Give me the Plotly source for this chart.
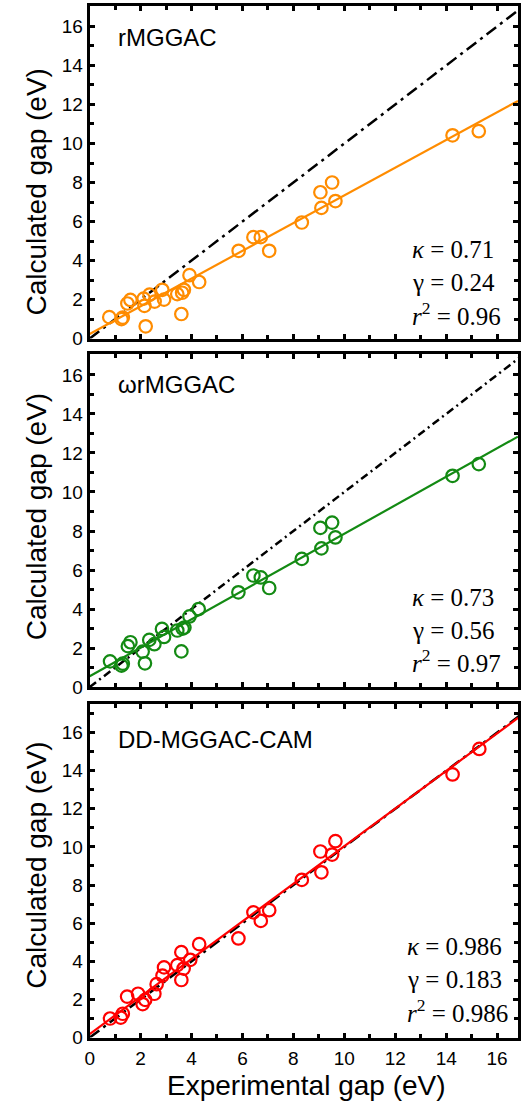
import plotly.graph_objects as go

W, H = 521, 1107

# ---------------- data ----------------
panel_names = ["rMGGAC", "ωrMGGAC", "DD-MGGAC-CAM"]
colors = ["#FF8C00", "#138A13", "#FF0000"]

exp_r = [0.77, 1.25, 1.3, 1.48, 1.6, 2.12, 2.15, 2.2, 2.35, 2.55, 2.85, 2.92, 3.44, 3.6, 3.63, 3.7,
         3.92, 4.3, 5.85, 6.43, 6.72, 7.05, 8.33, 9.06, 9.1, 9.52, 9.65, 14.25, 15.28]
calc_r = [1.1, 1.0, 1.08, 1.8, 1.98, 2.05, 1.68, 0.63, 2.25, 1.9, 2.5, 2.0, 2.28, 1.26, 2.35, 2.5,
          3.25, 2.9, 4.5, 5.2, 5.2, 4.5, 5.95, 7.5, 6.7, 8.0, 7.05, 10.42, 10.63]

exp_w = [0.8, 1.25, 1.3, 1.5, 1.6, 2.08, 2.17, 2.34, 2.54, 2.84, 2.92, 3.44, 3.6, 3.65, 3.72,
         3.92, 4.28, 5.84, 6.43, 6.72, 7.05, 8.33, 9.06, 9.1, 9.52, 9.65, 14.25, 15.28]
calc_w = [1.32, 1.1, 1.2, 2.1, 2.3, 1.82, 1.22, 2.42, 2.2, 2.98, 2.57, 2.9, 1.83, 3.0, 3.05,
          3.62, 4.0, 4.86, 5.72, 5.62, 5.08, 6.57, 8.16, 7.11, 8.43, 7.67, 10.83, 11.43]

exp_d = [0.8, 1.22, 1.3, 1.47, 1.9, 2.08, 2.18, 2.54, 2.63, 2.86, 2.92, 3.44, 3.6, 3.6, 3.69,
         3.95, 4.3, 5.84, 6.43, 6.72, 7.05, 8.33, 9.06, 9.1, 9.52, 9.65, 14.25, 15.3]
calc_d = [1.0, 1.05, 1.25, 2.15, 2.3, 1.76, 1.98, 2.3, 2.8, 3.25, 3.68, 3.8, 4.48, 3.02, 3.62,
          4.08, 4.9, 5.2, 6.57, 6.12, 6.68, 8.27, 9.76, 8.67, 9.6, 10.3, 13.8, 15.14]

kappa = [0.71, 0.73, 0.986]
gamma = [0.24, 0.56, 0.183]
r2 = ["0.96", "0.97", "0.986"]
kappa_txt = ["0.71", "0.73", "0.986"]
gamma_txt = ["0.24", "0.56", "0.183"]

x_ticks = [0, 2, 4, 6, 8, 10, 12, 14, 16]
y_ticks = [0, 2, 4, 6, 8, 10, 12, 14, 16]
x_range = [0, 16.82]
y_ranges = [[0, 17.05], [0, 17.05], [0, 17.5]]
diag = [0, 17.5]

xs = [exp_r, exp_w, exp_d]
ys = [calc_r, calc_w, calc_d]

# ---------------- layout geometry (pixels) ----------------
plot_left = 86
panel_px = [(6, 342), (358, 694), (711, 1048)]   # (top, bottom)
ytitle_center = [194, 522, 874]
label_y = [38, 388, 747]
stat_left = [411, 411, 406]
stat_y = [[252, 285, 317], [603, 637, 668], [956, 989, 1021]]
diag_dash = ["12px,5px,3px,5px", "8px,4px,2px,4px", "12px,5px,3px,5px"]

fig = go.Figure()

SANS = "Liberation Sans"
SERIF = "Liberation Serif"
tickfont = dict(family=SANS, size=19, color="black")
ax_common = dict(
    showline=True, linecolor="black", linewidth=3, mirror="allticks",
    ticks="inside", ticklen=5, tickwidth=2.5, tickcolor="black",
    showgrid=False, zeroline=False,
    minor=dict(ticks="inside", ticklen=4, tickwidth=2.5, dtick=1, tickcolor="black", showgrid=False),
    tickfont=tickfont,
)

for i in range(3):
    xa = "x" if i == 0 else f"x{i+1}"
    ya = "y" if i == 0 else f"y{i+1}"
    # y = x reference line
    fig.add_trace(go.Scatter(x=diag, y=diag, mode="lines",
                             line=dict(color="black", width=2.5, dash=diag_dash[i]),
                             xaxis=xa, yaxis=ya, showlegend=False, hoverinfo="skip"))
    # fit line
    fx = [x_range[0], x_range[1]]
    fy = [kappa[i] * v + gamma[i] for v in fx]
    fig.add_trace(go.Scatter(x=fx, y=fy, mode="lines",
                             line=dict(color=colors[i], width=2.2),
                             xaxis=xa, yaxis=ya, showlegend=False))
    # data points
    fig.add_trace(go.Scatter(x=xs[i], y=ys[i], mode="markers",
                             marker=dict(symbol="circle-open", size=12.5, color=colors[i],
                                         line=dict(width=2.2, color=colors[i])),
                             xaxis=xa, yaxis=ya, showlegend=False, cliponaxis=False))

    top, bot = panel_px[i]
    ydom = [1 - bot / H, 1 - top / H]
    xkey = "xaxis" if i == 0 else f"xaxis{i+1}"
    ykey = "yaxis" if i == 0 else f"yaxis{i+1}"
    fig.update_layout(**{
        xkey: dict(ax_common, domain=[plot_left / W, 1.0], range=x_range, tickvals=x_ticks,
                   anchor=ya, showticklabels=(i == 2), ticklabelstandoff=2),
        ykey: dict(ax_common, domain=ydom, range=y_ranges[i], tickvals=y_ticks, anchor=xa),
    })

    # y-axis title
    fig.add_annotation(text="Calculated gap (eV)", xref="paper", yref="paper",
                       x=32 / W, y=1 - ytitle_center[i] / H, textangle=-90,
                       showarrow=False, xanchor="center", yanchor="middle",
                       font=dict(family=SANS, size=28, color="black"))
    # panel label
    fig.add_annotation(text=panel_names[i], xref="paper", yref="paper",
                       x=113 / W, y=1 - label_y[i] / H, showarrow=False,
                       xanchor="left", yanchor="middle",
                       font=dict(family=SANS, size=24, color="black"))
    # statistics
    stats = [f"<i>κ</i> = {kappa_txt[i]}", f"γ = {gamma_txt[i]}", f"<i>r</i><sup>2</sup> = {r2[i]}"]
    for s, yy in zip(stats, stat_y[i]):
        fig.add_annotation(text=s, xref="paper", yref="paper",
                           x=stat_left[i] / W, y=1 - yy / H, showarrow=False,
                           xanchor="left", yanchor="middle",
                           font=dict(family=SERIF, size=25, color="black"))

# x-axis title
fig.add_annotation(text="Experimental gap (eV)", xref="paper", yref="paper",
                   x=306 / W, y=1 - 1096 / H, showarrow=False,
                   xanchor="center", yanchor="middle", borderpad=0,
                   font=dict(family=SANS, size=28, color="black"))

fig.update_layout(width=W, height=H, margin=dict(l=0, r=0, t=0, b=0),
                  paper_bgcolor="white", plot_bgcolor="white", showlegend=False)

fig.write_html("out.html")
